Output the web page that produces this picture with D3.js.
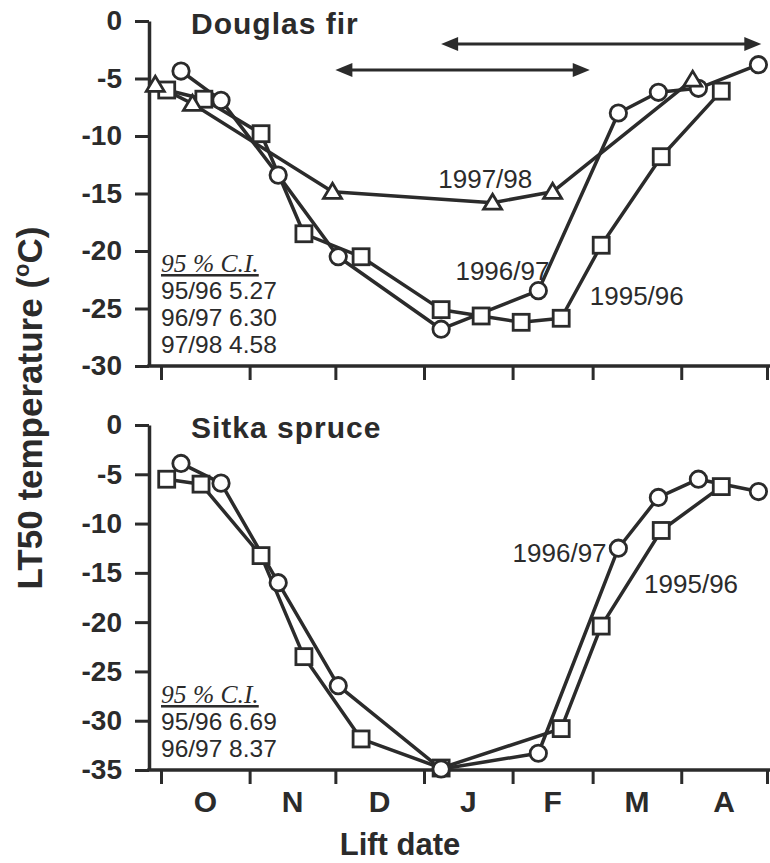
<!DOCTYPE html>
<html>
<head>
<meta charset="utf-8">
<script src="https://cdn.jsdelivr.net/npm/d3@7"></script>
<style>
  body { margin: 0; background: #fff; }
  svg text { font-family: "Liberation Sans", Arial, sans-serif; fill: #2b2b2b; }
</style>
</head>
<body>
<svg id="chart" width="770" height="863"></svg>
<script>
const ink = "#2b2b2b"

// lift dates (month-day) and LT50 (deg C)
// Douglas fir
const firDates9596 = ["10-03","10-16","11-05","11-20","12-10","01-07","01-21","02-04","02-18","03-04","03-25","04-15"]
const firLT9596 = [-6.0, -6.8, -9.8, -18.5, -20.5, -25.1, -25.65, -26.2, -25.85, -19.5, -11.8, -6.1]
const firDates9697 = ["10-08","10-22","11-11","12-02","01-07","02-10","03-10","03-24","04-07","04-28"]
const firLT9697 = [-4.35, -6.9, -13.4, -20.5, -26.8, -23.45, -8.0, -6.2, -5.85, -3.8]
const firDates9798 = ["09-29","10-12","11-30","01-25","02-15","04-05"]
const firLT9798 = [-5.55, -7.2, -14.85, -15.8, -14.85, -5.1]

// Sitka spruce
const spruceDates9596 = ["10-03","10-15","11-05","11-20","12-10","01-07","02-18","03-04","03-25","04-15"]
const spruceLT9596 = [-5.5, -6.0, -13.25, -23.5, -31.85, -34.8, -30.8, -20.4, -10.7, -6.25]
const spruceDates9697 = ["10-08","10-22","11-11","12-02","01-07","02-10","03-10","03-24","04-07","04-28"]
const spruceLT9697 = [-3.9, -5.9, -16.0, -26.45, -34.9, -33.3, -12.5, -7.35, -5.5, -6.75]

// 95% confidence intervals
const ciFir = [["95/96", "5.27"], ["96/97", "6.30"], ["97/98", "4.58"]]
const ciSpruce = [["95/96", "6.69"], ["96/97", "8.37"]]

// double-headed period arrows in the Douglas fir panel: [from, to, level]
const firArrows = [["01-07", "04-29", -2.0], ["12-01", "02-28", -4.25]]

// x axis: month boundaries and month initials
const monthStarts = ["10-01","11-01","12-01","01-01","02-01","03-01","04-01","05-01"]
const monthLetters = ["O","N","D","J","F","M","A"]

const yTicksFir = [0, -5, -10, -15, -20, -25, -30]
const yTicksSpruce = [0, -5, -10, -15, -20, -25, -30, -35]

// season runs Oct-Apr, so Sep-Dec are the first calendar year
const toDate = (md) => {
    const [m, d] = md.split("-").map(Number)
    return new Date(Date.UTC(m >= 9 ? 1996 : 1997, m - 1, d))
}

const svg = d3.select("#chart")
const axisLeftX = 149
const x = d3.scaleUtc()
    .domain([toDate("10-01"), toDate("05-01")])
    .range([161, 767])

const panels = [
    {
        title: "Douglas fir", top: 21, bottom: 366, yMin: -30, yTicks: yTicksFir,
        series: [
            { dates: firDates9596, values: firLT9596, shape: "square" },
            { dates: firDates9697, values: firLT9697, shape: "circle" },
            { dates: firDates9798, values: firLT9798, shape: "triangle" }
        ],
        labels: [
            { text: "1997/98", date: "01-06", value: -14.5 },
            { text: "1996/97", date: "01-12", value: -22.5 },
            { text: "1995/96", date: "02-28", value: -24.7 }
        ],
        ci: ciFir, arrows: firArrows, months: false
    },
    {
        title: "Sitka spruce", top: 425, bottom: 770, yMin: -35, yTicks: yTicksSpruce,
        series: [
            { dates: spruceDates9596, values: spruceLT9596, shape: "square" },
            { dates: spruceDates9697, values: spruceLT9697, shape: "circle" }
        ],
        labels: [
            { text: "1996/97", date: "02-01", value: -13.9 },
            { text: "1995/96", date: "03-19", value: -17.05 }
        ],
        ci: ciSpruce, arrows: [], months: true
    }
]

const drawMarker = (g, shape, cx, cy) => {
    if (shape === "circle") {
        g.append("circle").attr("cx", cx).attr("cy", cy).attr("r", 8.2)
    } else if (shape === "square") {
        g.append("rect").attr("x", cx - 8).attr("y", cy - 8).attr("width", 16).attr("height", 16)
    } else {
        g.append("path").attr("d", `M${cx},${cy - 8.5} L${cx + 9},${cy + 6.5} L${cx - 9},${cy + 6.5} Z`)
    }
}

panels.forEach(p => {
    const y = d3.scaleLinear().domain([p.yMin, 0]).range([p.bottom, p.top])
    const g = svg.append("g")

    // y axis
    const ya = g.append("g")
        .attr("transform", `translate(${axisLeftX},0)`)
        .call(d3.axisLeft(y).tickValues(p.yTicks).tickFormat(d => String(d))
            .tickSize(14).tickSizeOuter(0).tickPadding(13))
    ya.attr("color", ink)
    ya.select(".domain").attr("stroke-width", 3.5)
    ya.selectAll(".tick line").attr("stroke-width", 3)
    ya.selectAll(".tick text")
        .style("font-size", "28px").style("font-weight", "bold")
        .attr("fill", ink)

    // x axis: ticks at month boundaries, base line from the y axis to the edge
    const xa = g.append("g")
        .attr("transform", `translate(0,${p.bottom})`)
        .call(d3.axisBottom(x).tickValues(monthStarts.map(toDate)).tickFormat("")
            .tickSize(14).tickSizeOuter(0))
    xa.attr("color", ink)
    xa.select(".domain").remove()
    xa.selectAll(".tick line").attr("stroke-width", 3)
    g.append("line")
        .attr("x1", axisLeftX - 1.75).attr("x2", 770)
        .attr("y1", p.bottom).attr("y2", p.bottom)
        .attr("stroke", ink).attr("stroke-width", 3.5)

    if (p.months) {
        const starts = monthStarts.map(toDate)
        g.selectAll(".month")
            .data(monthLetters)
            .join("text")
            .attr("class", "month")
            .attr("x", (d, i) => x(new Date((+starts[i] + +starts[i + 1]) / 2)))
            .attr("y", p.bottom + 42)
            .attr("text-anchor", "middle")
            .style("font-size", "30px").style("font-weight", "bold")
            .text(d => d)
    }

    // panel title
    g.append("text")
        .attr("x", axisLeftX + 42).attr("y", p.top + 13)
        .style("font-size", "30px").style("font-weight", "bold")
        .style("letter-spacing", "1px")
        .text(p.title)

    // period arrows
    p.arrows.forEach(a => {
        const x1 = x(toDate(a[0])), x2 = x(toDate(a[1])), ay = y(a[2])
        const head = 17, half = 7
        g.append("line")
            .attr("x1", x1 + head - 2).attr("x2", x2 - head + 2)
            .attr("y1", ay).attr("y2", ay)
            .attr("stroke", ink).attr("stroke-width", 3)
        g.append("path")
            .attr("d", `M${x1},${ay} L${x1 + head},${ay - half} L${x1 + head},${ay + half} Z`)
            .attr("fill", ink)
        g.append("path")
            .attr("d", `M${x2},${ay} L${x2 - head},${ay - half} L${x2 - head},${ay + half} Z`)
            .attr("fill", ink)
    })

    // lines
    const line = d3.line().x(d => x(d[0])).y(d => y(d[1]))
    p.series.forEach(s => {
        const pts = s.dates.map((d, i) => [toDate(d), s.values[i]])
        g.append("path")
            .attr("d", line(pts))
            .attr("fill", "none").attr("stroke", ink).attr("stroke-width", 3.5)
            .attr("stroke-linejoin", "round")
    })

    // markers
    p.series.forEach(s => {
        const mg = g.append("g").attr("fill", "#fff").attr("stroke", ink).attr("stroke-width", 2.8)
        s.dates.forEach((d, i) => drawMarker(mg, s.shape, x(toDate(d)), y(s.values[i])))
    })

    // series labels
    p.labels.forEach(l => {
        g.append("text")
            .attr("x", x(toDate(l.date))).attr("y", y(l.value))
            .style("font-size", "26px")
            .text(l.text)
    })

    // confidence interval block
    const ciBase = p.bottom - 13 - 27 * p.ci.length
    g.append("text")
        .attr("x", 161).attr("y", ciBase)
        .style("font-family", "'Liberation Serif', 'Times New Roman', serif")
        .style("font-style", "italic").style("font-size", "25.5px")
        .style("text-decoration", "underline")
        .text("95 % C.I.")
    g.selectAll(".ci")
        .data(p.ci)
        .join("text")
        .attr("class", "ci")
        .attr("x", 161)
        .attr("y", (d, i) => ciBase + 27 * (i + 1))
        .style("font-size", "24.5px")
        .text(d => d[0] + " " + d[1])
})

// shared axis titles
const yTitle = svg.append("text")
    .attr("transform", "translate(42,408) rotate(-90)")
    .attr("text-anchor", "middle")
    .style("font-size", "35px").style("font-weight", "bold")
yTitle.append("tspan").text("LT50 temperature (")
yTitle.append("tspan").attr("dy", -13).style("font-size", "22px").text("o")
yTitle.append("tspan").attr("dy", 13).text("C)")

svg.append("text")
    .attr("x", 400).attr("y", 855)
    .attr("text-anchor", "middle")
    .style("font-size", "31px").style("font-weight", "bold")
    .text("Lift date")
</script>
</body>
</html>
